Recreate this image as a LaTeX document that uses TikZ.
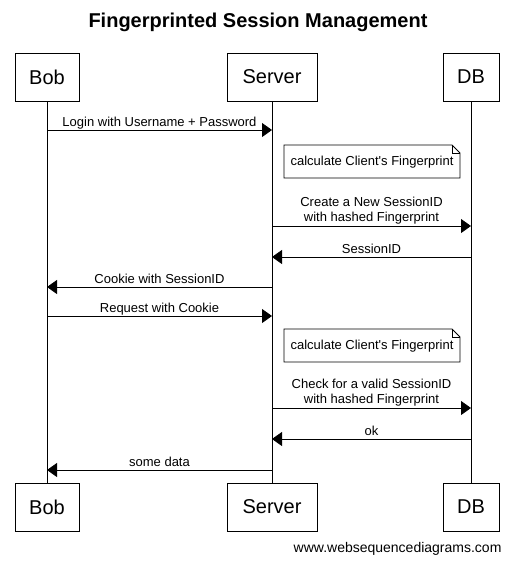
\documentclass[tikz,border=0pt]{standalone}
\usepackage{fontspec}
\setmainfont{Liberation Sans}
\usetikzlibrary{arrows.meta,calc}
\begin{document}
\begin{tikzpicture}[x=1pt,y=-1pt,
  actor/.style={draw,line width=0.8pt,minimum width=64pt,minimum height=48pt,inner sep=0pt,font=\fontsize{20}{22}\selectfont},
  msg/.style={line width=0.8pt,-{Triangle[length=10pt,width=14pt]}},
  lbl/.style={font=\fontsize{13}{15.5}\selectfont,inner sep=0pt,align=center},
  life/.style={line width=0.8pt}]
\useasboundingbox (0,0) rectangle (514,566);
\node[font=\bfseries\fontsize{20}{22}\selectfont] (title) at (258,22) {Fingerprinted Session Management};
% actors
\node[actor] (bobT) at (47,77) {Bob};
\node[actor,minimum width=90pt] (srvT) at (272,77) {Server};
\node[actor,minimum width=56pt] (dbT) at (471,77) {DB};
\node[actor] (bobB) at (47,507) {Bob};
\node[actor,minimum width=90pt] (srvB) at (272,507) {Server};
\node[actor,minimum width=56pt] (dbB) at (471,507) {DB};
\draw[life] (bobT) -- (bobB);
\draw[life] (srvT) -- (srvB);
\draw[life] (dbT) -- (dbB);
% coordinates on lifelines
\foreach \n/\y in {1/130,3/226,4/257,5/287,6/316,8/408,9/439,10/470}{
  \coordinate (b\n) at (47,\y);
  \coordinate (s\n) at (272,\y);
  \coordinate (d\n) at (471,\y);
}
% messages
\draw[msg] (b1) -- (s1);
\node[lbl,anchor=base] (l1) at ([yshift=3.5pt]$(b1)!0.5!(s1)$) {Login with Username + Password};
\draw[msg] (s3) -- (d3);
\node[lbl,anchor=base] (l3) at ([yshift=4.5pt]$(s3)!0.5!(d3)$) {Create a New SessionID\\with hashed Fingerprint};
\draw[msg] (d4) -- (s4);
\node[lbl,anchor=base] (l4) at ([yshift=3.5pt]$(s4)!0.5!(d4)$) {SessionID};
\draw[msg] (s5) -- (b5);
\node[lbl,anchor=base] (l5) at ([yshift=3.5pt]$(b5)!0.5!(s5)$) {Cookie with SessionID};
\draw[msg] (b6) -- (s6);
\node[lbl,anchor=base] (l6) at ([yshift=3.5pt]$(b6)!0.5!(s6)$) {Request with Cookie};
\draw[msg] (s8) -- (d8);
\node[lbl,anchor=base] (l8) at ([yshift=4.5pt]$(s8)!0.5!(d8)$) {Check for a valid SessionID\\with hashed Fingerprint};
\draw[msg] (d9) -- (s9);
\node[lbl,anchor=base] (l9) at ([yshift=3.5pt]$(s9)!0.5!(d9)$) {ok};
\draw[msg] (s10) -- (b10);
\node[lbl,anchor=base] (l10) at ([yshift=3.5pt]$(b10)!0.5!(s10)$) {some data};
% notes
\foreach \y/\nm in {145/n1,329/n2}{
  \filldraw[fill=white,line width=0.8pt] (284,\y) -- (452,\y) -- (460,\y+8) -- (460,\y+33) -- (284,\y+33) -- cycle;
  \draw[line width=0.8pt] (452,\y) -- (452,\y+8) -- (460,\y+8);
  \node[lbl] (\nm) at (372,\y+17.5) {calculate Client\textquotesingle s Fingerprint};
}
\node[font=\fontsize{14}{16}\selectfont,anchor=east] (foot) at (505,549) {www.websequencediagrams.com};
\end{tikzpicture}
\end{document}
